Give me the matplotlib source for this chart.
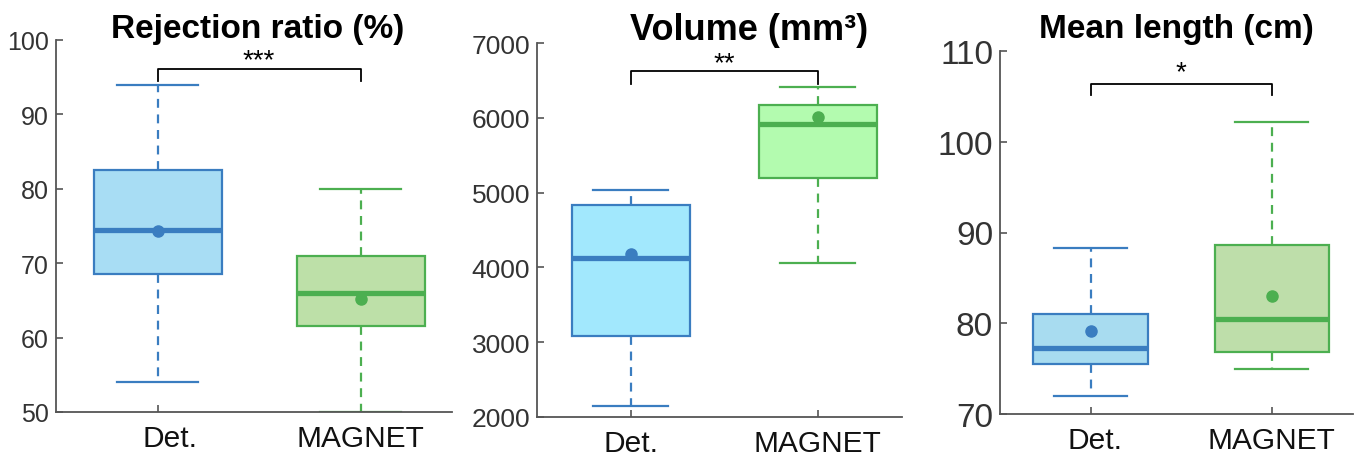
import numpy as np
import matplotlib
matplotlib.use("Agg")
import matplotlib.pyplot as plt

plt.rcParams['font.family'] = ['Liberation Sans', 'DejaVu Sans']

groups = ["Det.", "MAGNET"]

# rejection ratio (%)
rej_whislo = [54.0, 50.0]
rej_q1 = [68.5, 61.5]
rej_med = [74.5, 66.0]
rej_q3 = [82.5, 71.0]
rej_whishi = [94.0, 80.0]
rej_mean = [74.3, 65.2]

# volume (mm3)
vol_whislo = [2150, 4060]
vol_q1 = [3080, 5200]
vol_med = [4120, 5920]
vol_q3 = [4830, 6170]
vol_whishi = [5030, 6410]
vol_mean = [4180, 6010]

# mean length (cm)
len_whislo = [72.0, 75.0]
len_q1 = [75.5, 76.8]
len_med = [77.3, 80.5]
len_q3 = [81.0, 88.6]
len_whishi = [88.3, 102.2]
len_mean = [79.2, 83.0]

titles = ["Rejection ratio (%)", "Volume (mm³)", "Mean length (cm)"]
stars = ["***", "**", "*"]
ylims = [(50, 100), (2000, 7000), (70, 110)]
yticks = [np.arange(50, 101, 10), np.arange(2000, 7001, 1000), np.arange(70, 111, 10)]
bracket_y = [96.1, 6620, 106.4]
bracket_drop = [1.6, 170, 1.2]

blue = "#3A7DC0"
green = "#4CAF50"
fills = [("#A8DDF4", "#BDE0A8"), ("#A2E8FD", "#B3FBAF"), ("#A8DCF0", "#BEDEAA")]

# axes boxes in pixels: left, right, top, bottom
boxes_px = [(56, 452, 41, 413), (537, 902, 44, 418), (1000, 1353, 52, 415)]
tick_fs = [18, 19, 24]
title_fs = [24, 26, 24]
title_x = [0.51, 0.58, 0.5]
title_y = [0.99, 0.99, 1.018]
star_off = [1.5, 0.7, 3]
det_shift = [0.06, 0.0, 0.027]  # "Det." label sits a bit right of its tick

data = [
    (rej_whislo, rej_q1, rej_med, rej_q3, rej_whishi, rej_mean),
    (vol_whislo, vol_q1, vol_med, vol_q3, vol_whishi, vol_mean),
    (len_whislo, len_q1, len_med, len_q3, len_whishi, len_mean),
]

W, H = 1360, 460
fig = plt.figure(figsize=(W / 100, H / 100), dpi=100)

for k in range(3):
    l, r, t, b = boxes_px[k]
    ax = fig.add_axes([l / W, (H - b) / H, (r - l) / W, (b - t) / H])
    wlo, q1, med, q3, whi, mean = data[k]
    cols = [blue, green]
    for i in range(2):
        st = [dict(med=med[i], q1=q1[i], q3=q3[i], whislo=wlo[i], whishi=whi[i],
                   mean=mean[i], fliers=[])]
        c = cols[i]
        ax.bxp(st, positions=[i + 1], widths=0.63, patch_artist=True,
               showmeans=True, showfliers=False,
               boxprops=dict(facecolor=fills[k][i], edgecolor=c, linewidth=1.6),
               medianprops=dict(color=c, linewidth=3.8),
               whiskerprops=dict(color=c, linewidth=1.6, linestyle=(0, (4, 3))),
               capprops=dict(color=c, linewidth=1.6),
               meanprops=dict(marker='o', markerfacecolor=c, markeredgecolor=c,
                              markersize=8),
               capwidths=0.4)
    ax.set_xlim(0.5, 2.45)
    ax.set_ylim(*ylims[k])
    ax.set_yticks(yticks[k])
    # tick marks on the boxes, labels on minor ticks so "Det." can be nudged
    ax.xaxis.remove_overlapping_locs = False
    ax.set_xticks([1, 2], ["", ""])
    ax.set_xticks([1 + det_shift[k], 2], groups, minor=True, fontsize=21.5, color="#111111")
    for s in ["top", "right"]:
        ax.spines[s].set_visible(False)
    for s in ["left", "bottom"]:
        ax.spines[s].set_color("#555555")
        ax.spines[s].set_linewidth(1.3)
    ax.tick_params(axis='y', direction='in', length=5, width=1.2, color="#555555",
                   labelsize=tick_fs[k], labelcolor="#333333", pad=5)
    ax.tick_params(axis='x', which='major', direction='in', length=5, width=1.2,
                   color="#555555")
    ax.tick_params(axis='x', which='minor', length=0, pad=9)

    # significance bracket
    yb = bracket_y[k]
    d = bracket_drop[k]
    ax.plot([1, 1, 2, 2], [yb - d, yb, yb, yb - d], color="black", lw=1.3, clip_on=False)
    ax.annotate(stars[k], xy=(1.5, yb), xytext=(0, star_off[k]), textcoords='offset points',
                ha='center', va='baseline', fontsize=20, color="black")

    ax.text(title_x[k], title_y[k], titles[k], transform=ax.transAxes, ha='center',
            va='bottom', fontsize=title_fs[k], fontweight="bold")

fig.savefig("out.png", dpi=100)
